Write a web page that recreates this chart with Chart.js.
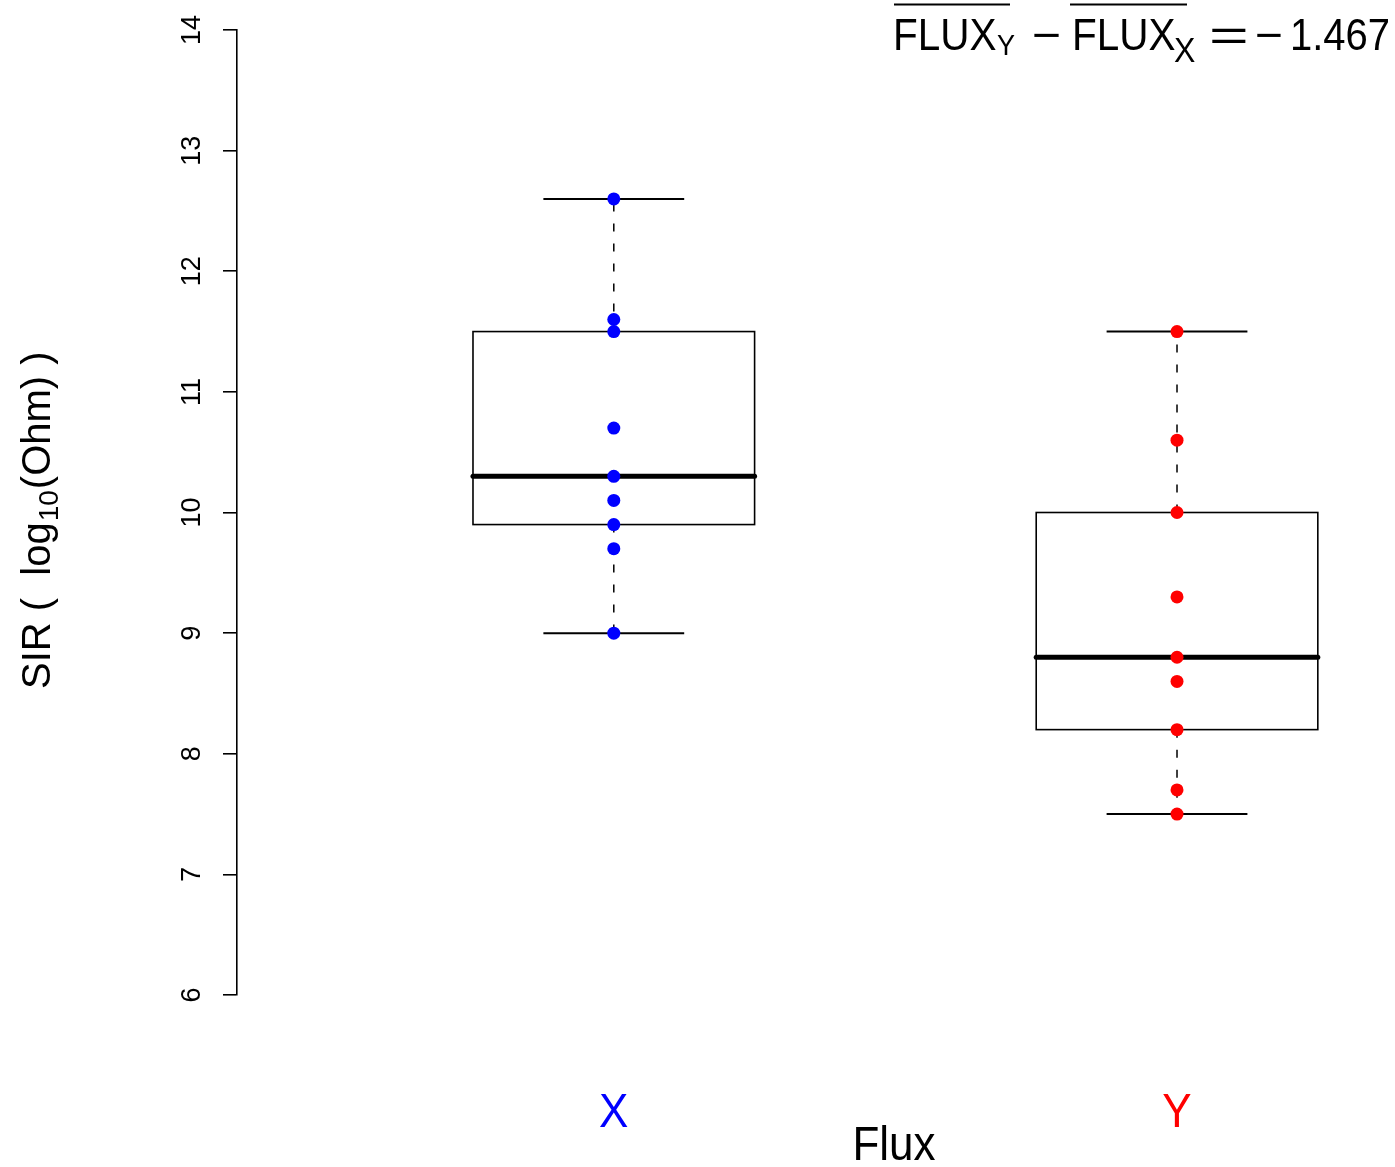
<!DOCTYPE html>
<html>
<head>
<meta charset="utf-8">
<script src="https://cdn.jsdelivr.net/npm/chart.js@4.4.1/dist/chart.umd.min.js"></script>
<style>
  html, body { margin: 0; padding: 0; background: #fff; overflow: hidden; }
  canvas { display: block; }
</style>
</head>
<body>
<canvas id="boxChart" width="1395" height="1167"></canvas>
<script>
const groups = ['X', 'Y'];
const groupColors = ['#0000ff', '#ff0000'];
const valuesX = [12.6, 11.6, 11.5, 10.7, 10.3, 10.1, 9.9, 9.7, 9.0];
const valuesY = [11.5, 10.6, 10.0, 9.3, 8.8, 8.6, 8.2, 7.7, 7.5];
const whiskerLow = [9.0, 7.5];
const boxLow = [9.9, 8.2];
const medians = [10.3, 8.8];
const boxHigh = [11.5, 10.0];
const whiskerHigh = [12.6, 11.5];
const yTicks = [6, 7, 8, 9, 10, 11, 12, 13, 14];
const meanDiff = -1.467;

const FONT = '"Liberation Sans", Arial, Helvetica, sans-serif';

function drawText(ctx, text, x, y, size, opts) {
    opts = opts || {};
    ctx.save();
    ctx.translate(x, y);
    ctx.scale(opts.sx || 1, opts.sy || 1.1);
    ctx.font = size + 'px ' + FONT;
    ctx.fillStyle = opts.color || '#000';
    ctx.textAlign = opts.align || 'left';
    ctx.textBaseline = 'alphabetic';
    ctx.fillText(text, 0, 0);
    ctx.restore();
}

// box, whiskers, staples and median drawn under the points
const boxPlugin = {
    id: 'boxPlugin',
    beforeDatasetsDraw(chart) {
        const ctx = chart.ctx;
        const xs = chart.scales.x, ys = chart.scales.y;
        ctx.save();
        ctx.strokeStyle = '#000';
        groups.forEach((g, i) => {
            const c = i + 1;
            const cx = xs.getPixelForValue(c);
            const l = xs.getPixelForValue(c - 0.25), r = xs.getPixelForValue(c + 0.25);
            const sl = xs.getPixelForValue(c - 0.125), sr = xs.getPixelForValue(c + 0.125);
            const yLo = ys.getPixelForValue(boxLow[i]), yHi = ys.getPixelForValue(boxHigh[i]);
            const yMed = ys.getPixelForValue(medians[i]);
            const wLo = ys.getPixelForValue(whiskerLow[i]), wHi = ys.getPixelForValue(whiskerHigh[i]);

            // whiskers
            ctx.lineWidth = 1.5;
            ctx.setLineDash([8, 12]);
            ctx.beginPath();
            ctx.moveTo(cx, yHi); ctx.lineTo(cx, wHi);
            ctx.moveTo(cx, yLo); ctx.lineTo(cx, wLo);
            ctx.stroke();
            ctx.setLineDash([]);

            // staples
            ctx.lineWidth = 2;
            ctx.beginPath();
            ctx.moveTo(sl, wHi); ctx.lineTo(sr, wHi);
            ctx.moveTo(sl, wLo); ctx.lineTo(sr, wLo);
            ctx.stroke();

            // box
            ctx.lineWidth = 1.6;
            ctx.strokeRect(l, yHi, r - l, yLo - yHi);

            // median
            ctx.lineWidth = 5;
            ctx.lineCap = 'round';
            ctx.beginPath();
            ctx.moveTo(l, yMed); ctx.lineTo(r, yMed);
            ctx.stroke();
            ctx.lineCap = 'butt';
        });
        ctx.restore();
    },
    afterDraw(chart) {
        const ctx = chart.ctx;
        const xs = chart.scales.x;

        // group labels
        groups.forEach((g, i) => {
            drawText(ctx, g, xs.getPixelForValue(i + 1), 1127, 44, {align: 'center', color: groupColors[i]});
        });
        drawText(ctx, 'Flux', 894, 1160, 44, {align: 'center'});

        // y title: SIR ( log10(Ohm) )
        ctx.save();
        ctx.translate(50, 689);
        ctx.rotate(-Math.PI / 2);
        ctx.fillStyle = '#000';
        ctx.textBaseline = 'alphabetic';
        ctx.textAlign = 'left';
        let px = 0;
        ctx.font = '40px ' + FONT;
        ctx.fillText('SIR (  log', px, 0);
        px += ctx.measureText('SIR (  log').width + 1;
        ctx.font = '28px ' + FONT;
        ctx.fillText('10', px, 8);
        px += ctx.measureText('10').width + 1;
        ctx.font = '40px ' + FONT;
        ctx.fillText('(Ohm) )', px, 0);
        ctx.restore();

        // mean difference annotation
        const diffText = Math.abs(meanDiff).toFixed(3);
        drawText(ctx, 'FLUX', 893, 50, 40.5);
        drawText(ctx, 'Y', 997, 55, 27);
        drawText(ctx, '\u2212', 1032, 50, 40, {sx: 1.25});
        drawText(ctx, 'FLUX', 1072, 50, 40.5);
        drawText(ctx, 'X', 1174, 62, 32);
        drawText(ctx, '=', 1209, 50, 40, {sx: 1.7});
        drawText(ctx, '\u2212', 1255, 50, 40, {sx: 1.2});
        drawText(ctx, diffText, 1390, 50, 40, {align: 'right'});
        ctx.save();
        ctx.strokeStyle = '#000';
        ctx.lineWidth = 1.8;
        ctx.beginPath();
        ctx.moveTo(894, 4.5); ctx.lineTo(1010, 4.5);
        ctx.moveTo(1070, 4.5); ctx.lineTo(1187, 4.5);
        ctx.stroke();
        ctx.restore();
    }
};

const seriesValues = [valuesX, valuesY];

new Chart(document.getElementById('boxChart').getContext('2d'), {
    type: 'scatter',
    data: {
        datasets: groups.map((g, i) => ({
            label: g,
            data: seriesValues[i].map(v => ({x: i + 1, y: v})),
            backgroundColor: groupColors[i],
            borderColor: groupColors[i],
            pointRadius: 6.5,
            pointBorderWidth: 0,
            pointHoverRadius: 6.5
        }))
    },
    options: {
        responsive: false,
        animation: false,
        layout: {padding: {left: 0, right: 0, top: 30, bottom: 172}},
        plugins: {legend: {display: false}, tooltip: {enabled: false}},
        scales: {
            x: {
                type: 'linear',
                display: false,
                min: 0.331,
                max: 2.3755
            },
            y: {
                type: 'linear',
                min: 6,
                max: 14,
                afterBuildTicks: s => { s.ticks = yTicks.map(v => ({value: v})); },
                afterFit: s => { s.width = 237; s.paddingTop = 0; s.paddingBottom = 0; },
                border: {display: true, color: '#000', width: 1.6},
                grid: {display: true, drawOnChartArea: false, drawTicks: true, tickLength: 14, color: '#000', lineWidth: 1.6},
                ticks: {
                    autoSkip: false,
                    minRotation: 90,
                    maxRotation: 90,
                    crossAlign: 'center',
                    padding: 15,
                    color: '#000',
                    font: {family: FONT, size: 27}
                }
            }
        }
    },
    plugins: [boxPlugin]
});
</script>
</body>
</html>
